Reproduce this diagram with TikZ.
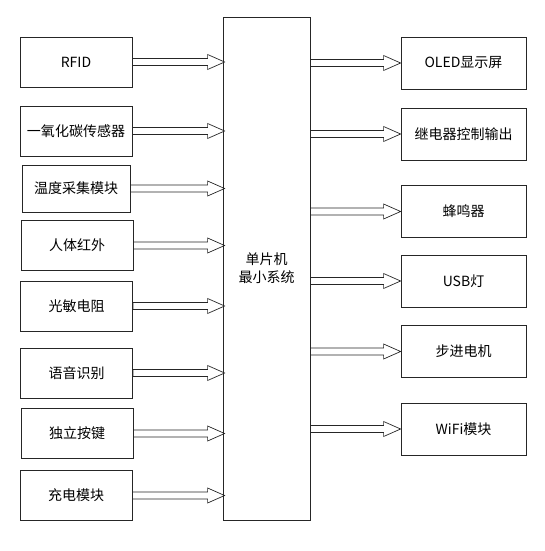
\documentclass[tikz,border=0pt]{standalone}
\usepackage{fontspec}
\setmainfont{Noto Sans CJK SC}
\usetikzlibrary{calc}

\begin{document}
\begin{tikzpicture}
  [x=1pt,y=-1pt,
   box/.style={draw=black!85,line width=0.8pt,rectangle,inner sep=0pt,
     minimum width=112pt,minimum height=50pt,font=\fontsize{14pt}{18pt}\selectfont},
   outbox/.style={box,minimum width=125pt,minimum height=52pt},
   blockarrow/.style={draw=black!85,line width=0.7pt,
     to path={let \p1=(\tikztostart), \p2=(\tikztotarget) in
       (\x1,\y1+3.5pt) -- (\x2-17pt,\y1+3.5pt) -- (\x2-17pt,\y1+7.5pt) -- (\x2,\y1)
       -- (\x2-17pt,\y1-7.5pt) -- (\x2-17pt,\y1-3.5pt) -- (\x1,\y1-3.5pt) -- cycle}}]

  \useasboundingbox (0,0) rectangle (544,551);

  \node[box,minimum width=87pt,minimum height=503pt,align=center] (mcu) at (266.5,268.5) {单片机\\最小系统};

  % inputs
  \node[box] (rfid)   at (76,62)      {RFID};
  \node[box] (co)     at (76,131)     {一氧化碳传感器};
  \node[box,minimum width=108pt,minimum height=47pt] (temp) at (76,188.5) {温度采集模块};
  \node[box] (body)   at (77,245.5)   {人体红外};
  \node[box] (light)  at (76.5,306)   {光敏电阻};
  \node[box] (voice)  at (76.5,373)   {语音识别};
  \node[box] (key)    at (77,433.5)   {独立按键};
  \node[box] (charge) at (76,495.5)   {充电模块};

  % outputs
  \node[outbox] (oled)    at (463.5,63)    {OLED显示屏};
  \node[outbox] (relay)   at (463.5,134)   {继电器控制输出};
  \node[outbox] (buzz)    at (463.5,211.5) {蜂鸣器};
  \node[outbox] (usb)     at (463.5,281)   {USB灯};
  \node[outbox] (stepper) at (463.5,351.5) {步进电机};
  \node[outbox] (wifi)    at (463.5,429)   {WiFi模块};

\foreach \from in {rfid,co,temp,body,light,voice,key,charge}
    \draw[blockarrow] (\from.east) to ([xshift=2pt]\from.east -| mcu.west);

\foreach \to in {oled,relay,buzz,usb,stepper,wifi}
    \draw[blockarrow] (mcu.east |- \to.west) to (\to.west);

\end{tikzpicture}
\end{document}
